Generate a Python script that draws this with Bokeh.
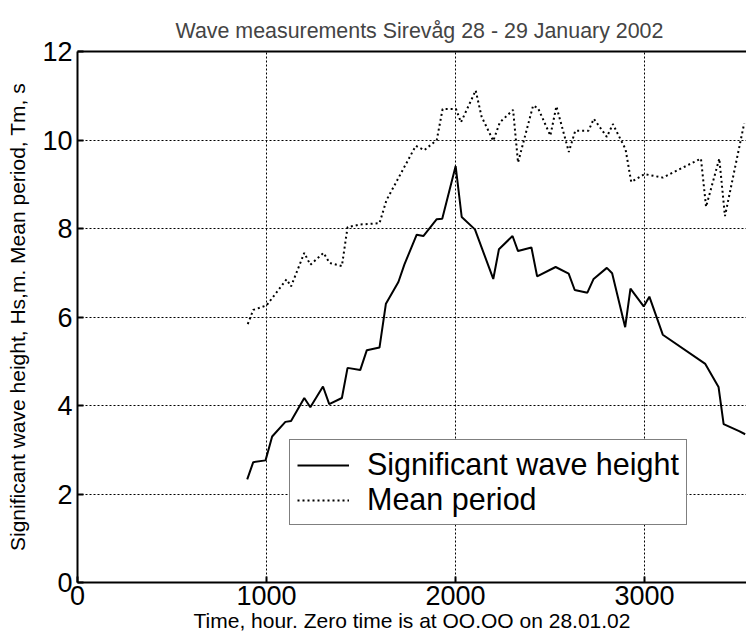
from bokeh.plotting import figure
from bokeh.models import Range1d, FixedTicker, LinearAxis, Legend, LegendItem
from bokeh.embed import file_html
from bokeh.resources import INLINE

# Significant wave height Hs (m)
hs_time = [898, 930, 995, 1030, 1100, 1130, 1200, 1232, 1299, 1332, 1399, 1429,
           1496, 1531, 1598, 1632, 1698, 1730, 1795, 1830, 1901, 1930, 2001, 2033,
           2103, 2200, 2230, 2302, 2331, 2402, 2432, 2530, 2599, 2631, 2698, 2731,
           2801, 2829, 2898, 2926, 2996, 3026, 3097, 3322, 3392, 3419, 3501, 3533]
hs_value = [2.33, 2.72, 2.76, 3.30, 3.63, 3.65, 4.17, 3.96, 4.43, 4.03, 4.17, 4.85,
            4.80, 5.25, 5.31, 6.30, 6.79, 7.19, 7.86, 7.83, 8.21, 8.22, 9.41, 8.26,
            7.98, 6.86, 7.53, 7.83, 7.49, 7.57, 6.92, 7.13, 6.98, 6.61, 6.55, 6.86,
            7.11, 6.99, 5.77, 6.64, 6.24, 6.46, 5.60, 4.94, 4.42, 3.58, 3.42, 3.35]

# Mean period Tm (s)
tm_time = [901, 930, 1000, 1106, 1130, 1200, 1232, 1302, 1334, 1399, 1429, 1496,
           1598, 1635, 1790, 1835, 1901, 1932, 2003, 2029, 2107, 2138, 2200, 2235,
           2305, 2331, 2411, 2437, 2502, 2534, 2600, 2634, 2704, 2732, 2801, 2833,
           2900, 2930, 3000, 3097, 3299, 3326, 3396, 3426, 3528]
tm_value = [5.84, 6.16, 6.26, 6.85, 6.69, 7.45, 7.18, 7.45, 7.22, 7.15, 8.03, 8.09,
            8.12, 8.64, 9.87, 9.77, 10.00, 10.70, 10.70, 10.40, 11.12, 10.53, 9.98, 10.40,
            10.68, 9.49, 10.78, 10.72, 10.10, 10.76, 9.73, 10.21, 10.21, 10.48, 10.07, 10.36,
            9.79, 9.05, 9.23, 9.15, 9.58, 8.49, 9.58, 8.28, 10.38]

x_ticks = [0, 1000, 2000, 3000]
y_ticks = [0, 2, 4, 6, 8, 10, 12]

FONT = "Liberation Sans"

p = figure(width=746, height=634, output_backend="svg", toolbar_location=None,
           x_range=Range1d(0, 3540), y_range=Range1d(0, 12),
           min_border_left=77, min_border_right=0, min_border_top=51,
           min_border_bottom=51)
p.outline_line_color = None
p.background_fill_color = "white"
p.border_fill_color = "white"

p.title.text = "Wave measurements Sirevåg 28 - 29 January 2002"
p.title.text_font = FONT
p.title.text_font_size = "21.4px"
p.title.text_font_style = "normal"
p.title.text_line_height = 0.75
p.title.align = "left"
p.title.offset = 98
p.title.standoff = 18

xt = FixedTicker(ticks=x_ticks, minor_ticks=[])
yt = FixedTicker(ticks=y_ticks, minor_ticks=[])

for ax in (p.xaxis[0], p.yaxis[0]):
    ax.axis_line_width = 2
    ax.axis_line_color = "black"
    ax.major_tick_in = 6
    ax.major_tick_out = 0
    ax.minor_tick_in = 0
    ax.minor_tick_out = 0
    ax.major_tick_line_width = 2
    ax.major_label_text_font = FONT
    ax.major_label_text_font_size = "27px"
    ax.major_label_text_color = "black"
    ax.axis_label_text_font = FONT
    ax.axis_label_text_font_size = "21px"
    ax.axis_label_text_font_style = "normal"
    ax.axis_label_text_color = "black"

p.xaxis.ticker = xt
p.yaxis.ticker = yt
p.xaxis.axis_label = "Time, hour. Zero time is at OO.OO on 28.01.02"
p.yaxis.axis_label = "Significant wave height, Hs,m. Mean period, Tm, s"
p.xaxis.major_label_standoff = 3
p.xaxis.axis_label_standoff = 1
p.yaxis.major_label_standoff = 5
p.yaxis.axis_label_standoff = 10

top = LinearAxis(ticker=FixedTicker(ticks=[], minor_ticks=[]), axis_line_width=2,
                 major_tick_out=0, minor_tick_out=0, major_label_standoff=0)
p.add_layout(top, "above")

p.xgrid.ticker = xt
p.ygrid.ticker = yt
for g in (p.xgrid[0], p.ygrid[0]):
    g.grid_line_color = "black"
    g.grid_line_width = 1
    g.grid_line_dash = "2 2"
    g.grid_line_alpha = 1.0

r_hs = p.line(hs_time, hs_value, line_color="black", line_width=2)
r_tm = p.line(tm_time, tm_value, line_color="black", line_width=2, line_dash="2 3")

legend = Legend(items=[LegendItem(label="Significant wave height", renderers=[r_hs]),
                       LegendItem(label="Mean period", renderers=[r_tm])],
                location=(212, 57))
legend.label_text_font = FONT
legend.label_text_font_size = "30.5px"
legend.label_text_line_height = 1.0
legend.label_text_color = "black"
legend.glyph_width = 52
legend.glyph_height = 26
legend.label_height = 26
legend.label_standoff = 18
legend.spacing = -4
legend.padding = 7
legend.margin = 0
legend.border_line_color = "black"
legend.border_line_width = 1
legend.background_fill_color = "white"
legend.background_fill_alpha = 1.0
p.add_layout(legend, "center")

open("out.html", "w").write(file_html(p, INLINE))
